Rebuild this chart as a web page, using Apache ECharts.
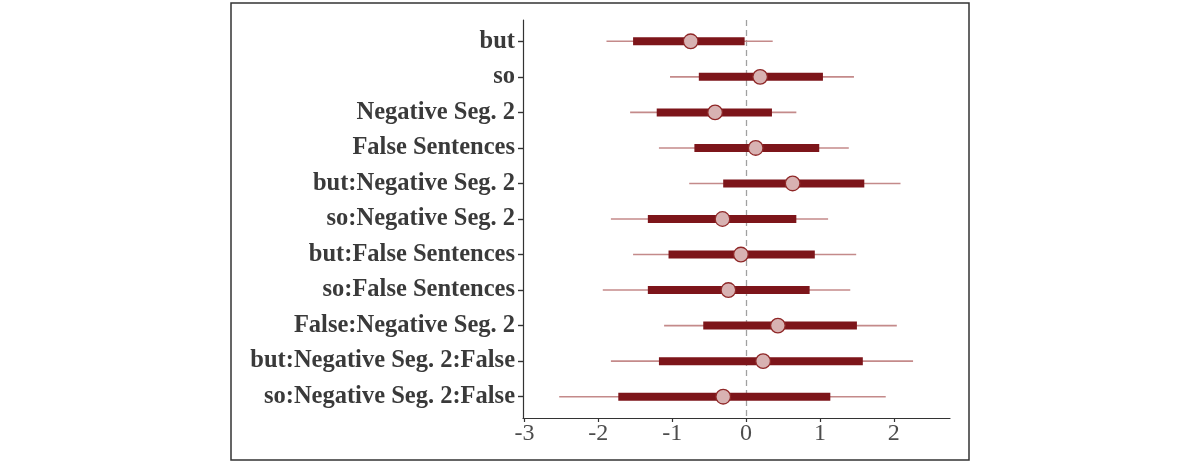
<!DOCTYPE html>
<html>

<head>
    <meta charset="utf-8">
    <title>Interval plot</title>
    <script src="https://cdn.jsdelivr.net/npm/echarts@6.0.0/dist/echarts.min.js"></script>
    <style>
        body {
            margin: 0;
            background: #ffffff;
        }
    </style>
</head>

<body>
    <div id="main" style="width: 1200px;height:462px;"></div>

    <script type="text/javascript">
        // parameter names, top to bottom
        const params = [
            'but', 'so', 'Negative Seg. 2', 'False Sentences',
            'but:Negative Seg. 2', 'so:Negative Seg. 2',
            'but:False Sentences', 'so:False Sentences',
            'False:Negative Seg. 2', 'but:Negative Seg. 2:False',
            'so:Negative Seg. 2:False'
        ];
        // outer interval (thin line)
        const outerLow = [-1.89, -1.03, -1.57, -1.18, -0.77, -1.83, -1.53, -1.94, -1.11, -1.83, -2.53];
        const outerHigh = [0.36, 1.46, 0.68, 1.39, 2.09, 1.11, 1.49, 1.41, 2.04, 2.26, 1.89];
        // inner interval (thick bar)
        const innerLow = [-1.53, -0.64, -1.21, -0.70, -0.31, -1.33, -1.05, -1.33, -0.58, -1.18, -1.73];
        const innerHigh = [-0.02, 1.04, 0.35, 0.99, 1.60, 0.68, 0.93, 0.86, 1.50, 1.58, 1.14];
        // point estimate
        const medians = [-0.75, 0.19, -0.42, 0.13, 0.63, -0.32, -0.07, -0.24, 0.43, 0.23, -0.31];
        const xTicks = [-3, -2, -1, 0, 1, 2];

        const rows = params.map((p, i) => [i + 1, outerLow[i], outerHigh[i], innerLow[i], innerHigh[i], medians[i]]);
        const yTicks = params.map((p, i) => i + 1);

        var myChart = echarts.init(document.getElementById('main'));

        const axisColor = '#333333';
        const serif = '"Liberation Serif", "DejaVu Serif", serif';

        var option = {
            backgroundColor: '#ffffff',
            animation: false,
            graphic: {
                elements: [{
                    type: 'rect',
                    shape: { x: 231, y: 3, width: 738, height: 457 },
                    style: { fill: 'none', stroke: '#333', lineWidth: 1.5 },
                    silent: true
                }]
            },
            grid: {
                left: 523,
                right: 250,
                top: 20,
                bottom: 44,
                containLabel: false
            },
            xAxis: {
                type: 'value',
                min: -3.02,
                max: 2.76,
                splitLine: { show: false },
                axisLine: { show: true, onZero: false, lineStyle: { color: axisColor, width: 1.2 } },
                axisTick: { show: true, customValues: xTicks, length: 4, lineStyle: { color: axisColor, width: 1.2 } },
                axisLabel: {
                    customValues: xTicks,
                    color: '#4d4d4d',
                    fontFamily: serif,
                    fontSize: 24,
                    margin: 4
                }
            },
            yAxis: {
                type: 'value',
                inverse: true,
                min: 0.4,
                max: 11.6,
                splitLine: { show: false },
                axisLine: { show: true, onZero: false, lineStyle: { color: axisColor, width: 1.2 } },
                axisTick: { show: true, customValues: yTicks, length: 5, lineStyle: { color: axisColor, width: 1.4 } },
                axisLabel: {
                    customValues: yTicks,
                    formatter: v => params[Math.round(v) - 1] || '',
                    color: '#3a3a3a',
                    fontFamily: serif,
                    fontWeight: 'bold',
                    fontSize: 24.5,
                    margin: 8
                }
            },
            series: [
                {
                    type: 'custom',
                    z: 3,
                    data: rows,
                    encode: { y: 0, x: [1, 2, 3, 4, 5] },
                    renderItem: function (p, api) {
                        const y = api.value(0);
                        const a = api.coord([api.value(1), y]);
                        const b = api.coord([api.value(2), y]);
                        const c = api.coord([api.value(3), y]);
                        const d = api.coord([api.value(4), y]);
                        const m = api.coord([api.value(5), y]);
                        return {
                            type: 'group',
                            children: [
                                {
                                    type: 'line',
                                    shape: { x1: a[0], y1: a[1], x2: b[0], y2: b[1] },
                                    style: { stroke: '#c48a8a', lineWidth: 1.6 }
                                },
                                {
                                    type: 'line',
                                    shape: { x1: c[0], y1: c[1], x2: d[0], y2: d[1] },
                                    style: { stroke: '#7d151a', lineWidth: 8 }
                                },
                                {
                                    type: 'circle',
                                    shape: { cx: m[0], cy: m[1], r: 7.3 },
                                    style: { fill: '#d8b2b2', stroke: '#8f2727', lineWidth: 1.3 }
                                }
                            ]
                        };
                    },
                    markLine: {
                        silent: true,
                        symbol: 'none',
                        label: { show: false },
                        z: 1,
                        lineStyle: { color: '#a0a0a0', type: [6, 4], width: 1.3 },
                        data: [{ xAxis: 0 }]
                    }
                }
            ]
        };

        myChart.setOption(option);
    </script>
</body>

</html>
